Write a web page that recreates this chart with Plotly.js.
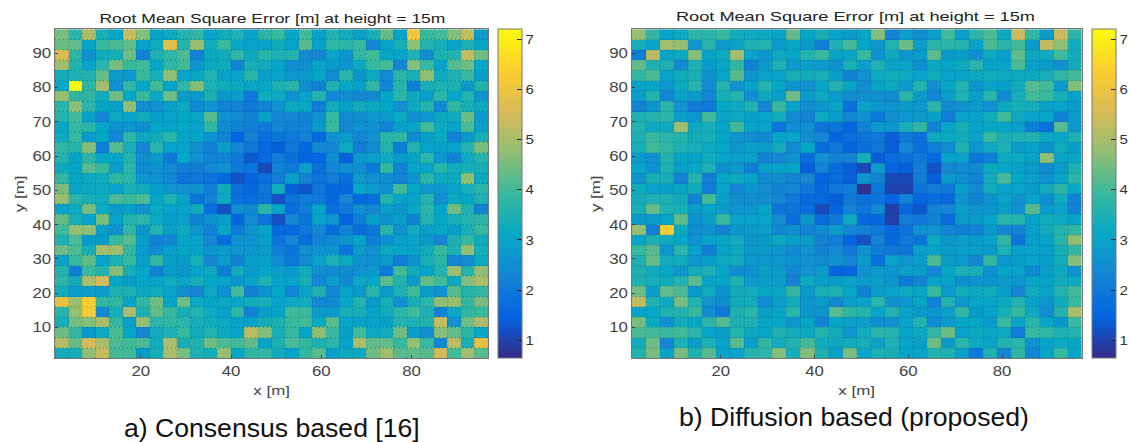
<!DOCTYPE html>
<html><head><meta charset="utf-8">
<script src="https://cdn.plot.ly/plotly-3.0.1.min.js"></script>
<style>html,body{margin:0;padding:0;background:#fff;overflow:hidden}#c{width:1129px;height:442px}</style>
</head><body><div id="c"></div>
<script>
const cellCentres=[2.5,5.5,8.5,11.5,14.5,17.5,20.5,23.5,26.5,29.5,32.5,35.5,38.5,41.5,44.5,47.5,50.5,53.5,56.5,59.5,62.5,65.5,68.5,71.5,74.5,77.5,80.5,83.5,86.5,89.5,92.5,95.5];
const rowCentres=cellCentres.slice().reverse();
const cellEdges=[1,4,7,10,13,16,19,22,25,28,31,34,37,40,43,46,49,52,55,58,61,64,67,70,73,76,79,82,85,88,91,94,97];
const xTicks=[20,40,60,80];
const yTicks=[10,20,30,40,50,60,70,80,90];
const barTicks=[1,2,3,4,5,6,7];
const plotTitle="Root Mean Square Error [m] at height = 15m";
const captionA="a) Consensus based [16]";
const captionB="b) Diffusion based (proposed)";
const consensus=[
[4.5,3.7,5.0,3.4,3.1,5.3,4.6,3.0,3.2,3.6,3.8,3.0,3.3,3.5,3.0,3.7,3.9,3.1,4.0,2.9,3.6,3.3,2.9,3.4,4.3,3.0,6.1,3.9,4.0,4.6,5.3,2.8],
[4.4,4.3,3.1,3.9,4.1,4.3,3.0,3.3,5.8,3.6,4.8,3.3,3.9,3.1,3.0,3.0,3.3,3.0,4.2,3.0,3.8,3.7,3.9,2.3,3.0,3.4,4.7,3.6,3.4,3.0,3.5,3.1],
[5.6,3.7,2.6,3.3,3.4,4.4,2.2,3.5,3.8,4.1,2.2,3.2,3.3,3.8,3.2,3.7,3.5,3.6,2.4,2.3,3.1,2.7,3.8,4.0,3.1,3.0,3.5,2.5,3.5,3.6,5.3,4.4],
[4.9,3.6,3.0,3.7,4.5,3.9,4.0,3.1,3.8,4.0,2.7,3.2,3.3,2.2,3.4,3.3,3.1,2.5,2.5,3.0,2.8,2.7,3.2,3.9,4.0,2.3,4.6,3.9,3.0,4.2,4.4,3.1],
[3.3,3.5,3.6,4.3,2.8,2.7,3.9,3.4,4.7,3.0,3.1,3.6,3.0,3.0,3.7,2.9,3.0,2.7,2.8,3.1,2.4,3.7,2.7,3.2,2.4,3.7,3.4,4.7,3.2,3.5,3.9,2.9],
[3.1,7.2,3.7,4.9,2.6,3.8,3.1,4.0,3.0,3.8,4.6,3.5,3.3,3.2,3.1,3.1,3.5,3.7,2.5,2.2,3.5,3.1,2.9,3.8,2.3,3.7,2.1,3.4,3.5,3.5,2.7,3.6],
[4.8,3.8,3.8,3.3,4.4,3.1,3.9,3.2,4.4,2.8,2.8,3.5,2.7,2.8,2.0,3.3,3.2,2.6,3.0,3.6,2.3,2.5,2.4,2.4,3.1,3.7,3.2,2.9,3.7,3.1,3.6,2.7],
[3.7,4.7,3.7,3.1,2.9,4.7,2.5,2.6,2.9,3.2,2.4,2.7,2.2,2.2,2.0,2.2,2.6,3.2,3.1,2.1,3.3,2.9,3.3,3.2,3.1,2.6,3.2,3.6,2.4,3.8,3.4,3.2],
[3.6,4.0,2.9,2.3,3.2,3.0,3.3,2.9,3.0,3.1,3.1,4.2,2.6,2.4,2.2,2.9,2.3,2.3,2.2,2.6,3.9,2.4,2.5,2.7,2.8,3.2,2.5,2.7,3.2,3.3,4.4,2.8],
[3.1,3.9,3.7,3.1,2.6,2.7,2.5,3.1,3.1,3.1,3.0,3.8,2.4,2.2,2.1,2.0,2.3,2.2,2.2,2.8,3.9,2.3,2.6,2.6,2.2,2.9,3.0,4.0,3.2,3.0,4.1,2.9],
[3.2,3.9,2.8,3.1,2.3,3.8,3.2,3.3,3.7,3.1,3.1,2.7,2.2,1.5,2.2,1.8,1.9,2.0,2.2,1.6,2.6,2.8,2.3,2.6,3.7,3.8,2.4,2.9,3.2,2.2,2.8,3.4],
[3.8,3.6,4.6,2.1,4.2,3.4,2.3,3.7,3.0,3.0,2.5,2.2,2.9,2.3,2.0,1.6,1.4,2.0,1.6,2.4,2.3,3.2,2.1,2.4,3.6,2.1,3.6,3.0,2.9,3.0,3.6,4.5],
[3.6,3.0,3.7,3.1,3.1,3.6,2.5,2.8,2.0,3.1,2.6,2.2,2.2,2.0,1.3,1.6,2.1,1.8,1.5,1.5,2.5,1.4,2.8,2.9,3.2,2.8,3.0,3.7,2.7,2.2,3.2,3.6],
[3.2,3.1,4.2,3.9,2.9,3.7,2.4,2.6,2.4,2.1,2.1,2.3,2.6,2.0,1.9,1.1,2.2,2.0,2.9,1.8,2.3,2.5,2.5,2.0,3.8,2.2,3.1,3.0,3.7,3.3,3.4,3.4],
[3.8,3.1,3.2,3.3,3.8,3.7,2.7,2.6,2.3,1.9,2.0,1.9,1.6,1.2,1.5,1.8,2.1,2.9,2.2,1.9,2.1,1.8,2.8,2.6,2.5,2.2,2.7,3.7,3.2,3.2,4.7,3.2],
[4.5,3.0,3.2,3.2,3.0,3.4,3.3,2.9,2.7,2.6,2.6,2.1,3.3,1.7,1.6,2.0,3.3,1.4,1.3,2.0,1.6,1.6,3.1,2.8,2.6,4.0,3.1,2.8,2.7,3.0,3.4,3.7],
[4.8,3.7,3.4,3.3,4.1,3.9,4.1,3.1,3.5,3.0,1.9,2.2,3.2,1.8,1.7,1.9,1.2,1.9,2.1,2.0,1.6,2.3,1.6,1.7,3.6,3.0,3.0,3.6,2.5,3.2,3.1,3.5],
[3.0,3.2,4.5,3.2,2.8,2.9,2.6,3.2,3.0,3.0,3.3,1.8,1.2,2.5,2.4,3.7,3.0,1.7,2.1,3.0,1.8,2.0,2.5,2.3,2.9,2.7,3.1,3.7,3.0,4.4,3.5,2.2],
[4.3,3.4,3.0,4.5,3.0,3.6,3.7,3.2,2.9,3.0,2.2,2.6,2.8,1.5,2.4,1.9,1.2,2.3,1.9,3.0,2.7,1.5,2.1,2.9,2.6,2.9,2.2,3.6,3.1,3.4,3.6,3.7],
[4.0,4.8,4.7,2.9,2.6,3.8,2.7,3.6,2.9,3.3,2.7,2.2,3.1,2.0,2.6,3.0,1.6,1.6,2.0,2.3,1.7,2.2,1.7,2.0,3.7,2.6,3.3,2.9,3.1,2.9,3.4,3.9],
[3.5,4.1,2.8,2.8,3.9,4.2,2.9,2.2,2.3,3.1,3.0,2.3,1.7,2.6,2.6,2.9,1.9,2.3,1.7,2.2,2.4,2.7,3.0,2.1,2.5,2.9,3.0,2.8,2.3,3.5,3.9,3.3],
[4.4,4.1,3.4,4.9,4.9,3.8,2.8,2.4,2.9,3.1,3.0,2.7,2.8,2.6,2.7,2.8,2.1,1.9,2.5,2.6,2.7,1.9,2.8,2.6,3.2,3.1,3.0,3.3,3.9,3.5,4.8,3.4],
[3.0,3.9,4.3,3.0,3.5,3.9,2.9,3.8,2.9,2.8,3.4,2.3,2.8,2.2,2.9,2.9,2.4,2.0,2.4,3.0,3.5,3.2,2.6,2.5,2.8,2.1,2.6,3.4,3.7,2.3,2.5,3.2],
[3.6,2.1,3.9,3.6,4.6,3.4,3.1,2.2,2.8,2.7,3.0,3.2,2.1,3.3,2.8,3.1,2.9,2.8,3.3,2.5,2.4,2.4,2.6,2.8,2.0,4.0,3.3,3.0,3.6,4.9,3.6,4.7],
[3.7,3.3,5.0,5.5,3.1,2.8,3.1,3.0,3.3,3.1,3.4,3.1,3.0,2.7,3.0,3.5,3.0,3.0,3.4,2.3,2.9,2.4,3.2,3.1,4.2,3.6,2.8,4.3,4.0,3.2,4.6,5.0],
[3.3,2.8,2.9,2.9,3.5,3.5,3.2,3.3,3.0,2.5,2.3,3.2,2.6,4.0,2.2,2.7,3.1,2.3,3.0,3.5,2.3,3.0,2.8,3.7,2.8,3.5,4.0,2.9,2.6,4.2,3.6,3.8],
[5.9,4.8,6.3,3.8,3.8,3.0,3.8,4.4,3.0,4.4,3.2,3.1,3.2,3.1,3.3,3.4,3.0,3.2,3.3,2.3,2.4,3.1,3.6,2.8,3.4,2.6,3.4,3.7,4.7,4.8,3.8,4.5],
[3.7,4.8,6.2,2.4,3.4,5.0,3.5,4.3,3.9,3.4,3.6,3.2,3.0,3.8,2.2,2.9,3.0,4.0,3.9,2.8,2.8,3.4,3.4,3.0,3.3,3.7,4.0,3.5,2.2,3.2,3.8,3.9],
[3.4,4.5,4.6,5.0,3.8,2.9,4.8,3.7,3.8,3.7,3.4,3.3,3.2,3.0,3.0,3.4,3.5,3.9,4.0,3.2,4.2,3.0,3.0,3.0,2.9,3.6,3.5,3.6,5.3,2.6,4.4,5.0],
[4.4,3.8,2.8,3.2,4.1,3.1,2.3,3.3,3.5,3.9,3.3,3.6,3.2,3.0,5.2,4.6,3.4,3.9,3.0,4.7,3.9,2.9,4.0,3.2,3.3,4.4,2.9,2.6,4.6,4.3,3.7,3.1],
[5.1,4.3,5.5,5.0,4.1,4.0,4.1,3.3,5.0,3.4,3.6,4.4,4.1,4.0,4.3,3.0,3.5,4.1,3.8,3.5,3.7,3.0,5.1,4.3,4.3,3.9,4.8,3.9,2.3,5.2,3.4,5.8],
[3.3,3.4,4.7,5.3,4.0,4.0,2.8,3.4,5.0,4.5,3.5,3.4,4.8,3.1,3.8,3.8,3.3,3.0,3.8,4.2,2.9,3.2,3.2,4.4,4.9,4.2,4.3,4.2,5.5,4.0,4.9,4.2]
];
const diffusion=[
[4.8,3.8,3.0,3.2,3.7,3.7,3.9,3.3,3.2,3.2,3.0,4.3,3.1,3.4,3.0,2.8,3.1,4.6,2.2,2.9,2.5,2.9,4.0,2.9,3.7,4.1,3.2,5.4,3.8,2.8,5.4,3.7],
[3.4,3.0,4.9,4.8,2.7,3.7,2.8,3.0,3.5,3.6,2.8,3.1,2.8,2.1,3.5,4.0,3.1,2.7,3.6,4.4,2.9,3.7,3.7,3.6,3.0,4.1,3.7,4.0,2.8,5.3,4.7,3.3],
[2.1,5.2,3.0,3.2,4.6,3.0,3.2,4.9,3.0,2.7,3.2,3.1,3.6,3.9,3.0,3.1,3.9,2.6,3.2,2.7,2.8,4.2,2.8,2.9,2.5,3.2,2.9,4.3,3.2,3.3,4.0,3.3],
[4.3,3.5,3.5,2.4,3.5,2.8,3.1,3.8,2.2,2.8,3.5,2.8,2.9,2.8,2.6,3.4,2.9,3.5,3.0,3.0,2.5,3.2,3.1,3.3,3.7,3.0,3.0,4.1,2.9,2.8,2.6,3.3],
[3.8,4.1,3.0,3.3,3.4,2.6,3.1,4.2,2.7,3.0,3.0,3.4,3.3,3.4,2.9,2.2,2.6,3.2,3.3,3.2,3.0,3.3,3.0,3.0,3.2,3.3,3.2,3.2,3.2,3.4,3.8,4.0],
[3.0,3.1,2.7,3.2,3.6,2.4,3.6,2.6,3.1,3.6,3.1,2.6,2.6,3.1,3.6,3.0,2.5,3.1,3.2,2.8,3.6,2.5,3.1,3.6,2.7,3.0,2.9,3.3,4.2,4.0,2.8,4.6],
[2.9,3.6,2.3,3.0,2.8,2.3,3.4,3.6,2.5,3.2,2.9,4.4,2.8,3.2,2.8,2.5,2.5,2.5,2.4,3.7,2.8,2.3,2.9,3.5,2.9,3.7,2.4,3.4,4.0,3.9,3.4,3.0],
[2.2,2.7,3.7,2.6,2.1,2.0,3.1,3.2,3.5,2.3,3.9,3.0,2.5,2.7,3.0,1.8,3.0,2.7,2.6,2.8,2.7,3.7,2.4,2.6,2.8,2.6,3.2,3.4,3.3,2.9,3.0,2.8],
[3.5,3.6,3.7,2.9,2.7,4.0,3.0,3.2,2.9,3.1,3.3,2.4,2.2,3.2,2.9,2.3,2.6,2.0,2.5,2.7,2.8,2.9,2.1,3.0,3.0,3.3,4.0,3.2,3.0,3.1,2.2,2.8],
[3.6,3.2,3.2,4.9,3.2,3.4,3.0,4.0,3.0,3.0,1.9,2.5,2.5,1.9,1.9,1.5,2.2,2.8,2.7,3.4,3.8,2.2,3.1,3.4,3.0,3.1,3.1,2.9,2.1,1.8,4.2,2.7],
[3.5,3.9,3.7,3.6,3.3,3.4,3.1,2.7,2.5,2.4,3.0,3.0,2.5,2.3,1.5,1.7,1.9,2.0,1.4,2.0,1.8,3.2,3.2,3.3,3.0,3.9,3.4,3.5,3.6,3.2,3.1,3.5],
[3.4,4.0,3.8,3.5,3.4,3.2,3.1,2.7,2.9,2.8,3.3,2.4,3.1,1.7,2.0,1.5,1.8,2.0,1.4,2.3,1.8,2.1,2.4,3.5,2.7,3.2,3.5,2.8,3.0,2.6,3.3,2.9],
[2.8,2.6,3.6,3.1,3.0,3.3,3.1,2.9,2.9,2.2,2.3,2.6,1.7,2.6,2.2,2.2,3.4,1.4,1.7,1.8,2.0,1.6,3.0,3.0,1.9,2.1,3.2,3.2,3.0,4.7,3.0,3.1],
[3.1,2.6,3.5,2.9,3.1,3.5,2.5,2.8,2.1,2.9,3.0,3.1,1.4,2.2,1.7,1.4,1.1,2.8,1.5,1.4,2.1,1.2,2.3,2.4,2.4,3.2,3.1,3.0,2.8,2.4,2.8,3.5],
[2.7,3.4,3.4,2.2,3.6,2.1,3.1,3.2,3.0,2.4,2.5,2.2,2.3,1.5,1.7,1.4,2.7,2.2,1.1,1.1,2.1,1.4,2.8,2.5,2.2,3.3,4.0,3.1,2.9,2.6,3.0,3.7],
[3.3,3.0,2.9,3.1,3.3,2.1,3.0,2.3,2.7,2.5,2.2,2.3,2.0,1.6,2.0,2.1,0.75,1.9,1.0,1.0,1.9,2.1,2.0,2.9,2.4,3.3,3.0,3.1,2.8,3.3,3.7,3.1],
[3.3,3.5,3.5,3.3,2.2,4.0,2.9,2.5,2.5,2.5,2.3,2.0,1.6,1.6,1.4,2.0,1.8,1.9,1.5,2.2,1.5,1.7,1.6,2.7,2.2,2.6,3.0,2.6,3.1,2.5,3.3,2.2],
[3.4,4.3,3.5,3.4,2.8,3.0,2.8,2.7,2.7,3.1,1.9,1.9,1.7,1.1,1.5,2.2,1.9,2.4,0.95,1.6,1.3,2.2,2.3,2.9,2.7,2.7,2.9,2.6,4.2,2.8,3.0,2.2],
[2.8,2.8,3.1,4.3,2.6,2.9,3.9,3.0,3.0,3.1,2.5,1.8,2.7,1.7,2.0,3.2,1.6,1.6,0.95,2.1,2.0,2.2,1.7,2.8,2.8,3.0,3.7,3.6,3.0,3.3,3.2,3.0],
[4.8,2.2,6.3,3.2,2.5,2.6,2.2,2.7,2.8,2.9,2.4,2.5,2.2,2.4,2.9,2.3,2.2,2.0,1.6,1.9,2.6,2.6,2.3,2.1,2.2,2.8,2.3,2.2,2.9,3.3,3.6,3.8],
[3.0,3.5,3.3,3.1,2.6,3.0,3.1,3.3,2.7,2.8,3.2,2.9,2.8,2.2,2.1,1.5,1.2,2.2,1.6,2.0,1.9,3.2,2.7,2.9,2.8,3.0,3.8,1.9,2.9,3.0,3.7,4.7],
[3.9,4.2,2.7,3.7,3.0,2.1,3.0,3.2,2.7,2.8,2.7,2.4,2.6,2.2,2.4,2.0,2.6,2.1,2.0,1.9,2.9,3.0,2.8,2.9,2.9,2.8,3.5,2.9,3.0,2.9,3.4,3.8],
[3.5,4.3,3.3,3.3,2.7,2.9,3.2,3.3,2.8,2.7,2.7,2.6,2.6,2.4,2.6,2.3,2.8,1.8,3.0,2.7,2.9,4.1,2.8,2.8,2.3,3.8,2.7,2.9,3.0,2.9,3.3,4.6],
[3.5,3.3,3.1,2.7,3.3,3.5,3.1,2.5,2.5,2.9,2.8,2.3,2.6,2.8,1.5,1.6,2.6,2.8,2.7,2.9,2.9,2.3,3.1,3.5,3.4,2.6,3.1,3.0,2.4,2.9,3.2,2.6],
[3.5,3.4,3.3,3.6,4.2,3.0,3.1,3.5,2.8,2.9,2.9,2.2,3.2,2.9,2.8,3.0,2.8,2.9,2.7,2.0,2.3,3.0,3.0,2.5,2.6,2.7,2.8,2.7,3.1,3.0,3.3,3.2],
[4.4,2.9,4.3,4.1,2.8,3.3,2.6,3.3,3.3,3.1,3.1,3.8,2.8,3.4,3.5,3.1,2.2,2.9,3.0,3.2,3.1,3.9,2.8,3.3,3.2,3.3,2.9,2.3,3.3,3.0,3.6,4.0],
[5.3,3.5,3.2,4.5,3.6,2.6,2.5,3.3,3.3,2.4,2.9,3.3,2.7,2.8,2.4,2.9,3.0,3.7,2.6,2.7,3.1,2.2,3.6,2.7,3.1,3.0,3.2,3.6,3.0,2.7,3.3,3.9],
[3.0,3.1,3.5,3.6,3.9,2.5,2.0,3.5,3.7,2.9,3.1,3.7,2.7,2.7,4.2,3.8,3.6,3.1,3.6,3.0,2.8,2.7,2.9,3.8,2.8,3.0,3.4,3.9,3.2,2.5,3.6,5.0],
[4.5,3.2,2.6,3.3,3.1,3.7,4.2,3.5,3.5,3.1,3.1,2.7,3.0,2.2,3.1,2.9,2.9,2.5,2.6,3.0,3.6,2.4,2.8,3.1,3.1,2.8,3.9,3.0,3.7,3.1,2.7,3.9],
[4.1,4.0,3.9,4.0,3.7,3.1,2.9,3.6,3.2,3.1,3.5,3.3,3.2,3.6,3.3,2.7,3.3,3.7,3.6,3.0,3.2,3.8,4.4,3.0,3.2,3.1,3.2,2.1,3.9,3.8,3.5,3.6],
[3.3,4.4,2.3,3.5,2.9,3.5,3.0,4.2,2.9,3.8,3.3,3.6,4.0,3.3,3.2,3.3,3.4,2.9,3.5,3.0,2.9,4.4,2.8,3.7,3.2,3.0,3.6,3.7,2.6,3.0,3.2,3.1],
[3.6,4.5,3.0,4.5,3.5,4.2,3.0,3.0,3.6,3.7,4.6,3.4,4.6,3.5,2.9,4.5,3.0,3.5,3.4,3.1,3.0,3.6,3.5,2.9,2.0,3.5,2.3,3.8,2.3,3.1,3.9,3.0]
];
const parula=[[0,'#352a87'],[0.125,'#0363e1'],[0.25,'#1485d4'],[0.375,'#06a7c6'],[0.5,'#38b99e'],[0.625,'#92bf73'],[0.75,'#d9ba56'],[0.875,'#fcce2e'],[1,'#f9fb0e']];
const W=1129,H=442;
const plotTop=29.3,plotBottom=358.3;
const textFont='"Liberation Sans",Arial,sans-serif';
function grid(xa,ya){
  const xs=[],ys=[];
  cellEdges.forEach(e=>{xs.push(e,e,null);ys.push(1,97,null);xs.push(1,97,null);ys.push(e,e,null);});
  return {type:'scatter',mode:'lines',x:xs,y:ys,xaxis:xa,yaxis:ya,hoverinfo:'skip',showlegend:false,
    line:{color:'rgba(15,30,50,0.5)',width:0.8,dash:'1px 3px'}};
}
function heat(z,xa,ya,cbx){
  return {type:'heatmap',z:z,x:cellCentres,y:rowCentres,xaxis:xa,yaxis:ya,colorscale:parula,zmin:0.64,zmax:7.2,zsmooth:false,
    colorbar:{x:cbx/W,xanchor:'left',xpad:0,ypad:0,y:1-(plotTop+plotBottom)/2/H,yanchor:'middle',thickness:23.5,thicknessmode:'pixels',len:plotBottom-plotTop,lenmode:'pixels',
      tickvals:barTicks,ticks:'inside',ticklen:5,tickcolor:'#222',tickwidth:1,outlinecolor:'#777',outlinewidth:1,
      tickfont:{family:textFont,size:13,color:'#333'}}};
}
function xAxis(l,r,anchor){
  return {domain:[l/W,r/W],range:[1,97],anchor:anchor,tickvals:xTicks,ticks:'inside',ticklen:3,tickcolor:'#444',showgrid:false,zeroline:false,
    showline:true,mirror:true,linecolor:'#777',linewidth:1,tickfont:{family:textFont,size:14,color:'#444'},
    title:{text:'x [m]',font:{family:textFont,size:13,color:'#444'},standoff:7}};
}
function yAxis(anchor){
  return {domain:[1-plotBottom/H,1-plotTop/H],range:[1,97],anchor:anchor,tickvals:yTicks,ticks:'inside',ticklen:3,tickcolor:'#444',showgrid:false,zeroline:false,
    showline:true,mirror:true,linecolor:'#777',linewidth:1,tickfont:{family:textFont,size:14,color:'#444'},
    title:{text:'y [m]',font:{family:textFont,size:13,color:'#444'},standoff:8}};
}
function note(t,x,y,size,color){
  return {text:t,xref:'paper',yref:'paper',x:x/W,y:1-y/H,xanchor:'center',yanchor:'middle',showarrow:false,font:{family:textFont,size:size,color:color}};
}
const layout={width:W,height:H,margin:{l:0,r:0,t:0,b:0,autoexpand:false},paper_bgcolor:'#fff',plot_bgcolor:'#fff',showlegend:false,
  xaxis:xAxis(55,488.3,'y'),yaxis:yAxis('x'),xaxis2:xAxis(631.7,1081.7,'y2'),yaxis2:yAxis('x2'),
  annotations:[note(plotTitle,272,19,13,'#222'),note(plotTitle,855.5,17,13,'#222'),note(captionA,271.5,428,26.6,'#111'),note(captionB,853.5,417,26.6,'#111')]};
function widen(selector,factor){
  document.querySelectorAll(selector).forEach(t=>{
    t.setAttribute('textLength',t.getComputedTextLength()*factor);
    t.setAttribute('lengthAdjust','spacingAndGlyphs');
  });
}
Plotly.newPlot('c',[heat(consensus,'x','y',498.3),grid('x','y'),heat(diffusion,'x2','y2',1092.3),grid('x2','y2')],layout,{staticPlot:true,displayModeBar:false}).then(()=>{
  widen('.xtick text,.x2tick text,.ytick text,.y2tick text',1.2);
  widen('.xtitle,.x2title,.ytitle,.y2title',1.3);
  widen('.colorbar .cbaxis text',1.15);
  const labels=document.querySelectorAll('.annotation-text');
  labels[0].setAttribute('textLength',346);labels[0].setAttribute('lengthAdjust','spacingAndGlyphs');
  labels[1].setAttribute('textLength',359);labels[1].setAttribute('lengthAdjust','spacingAndGlyphs');
});
</script></body></html>
